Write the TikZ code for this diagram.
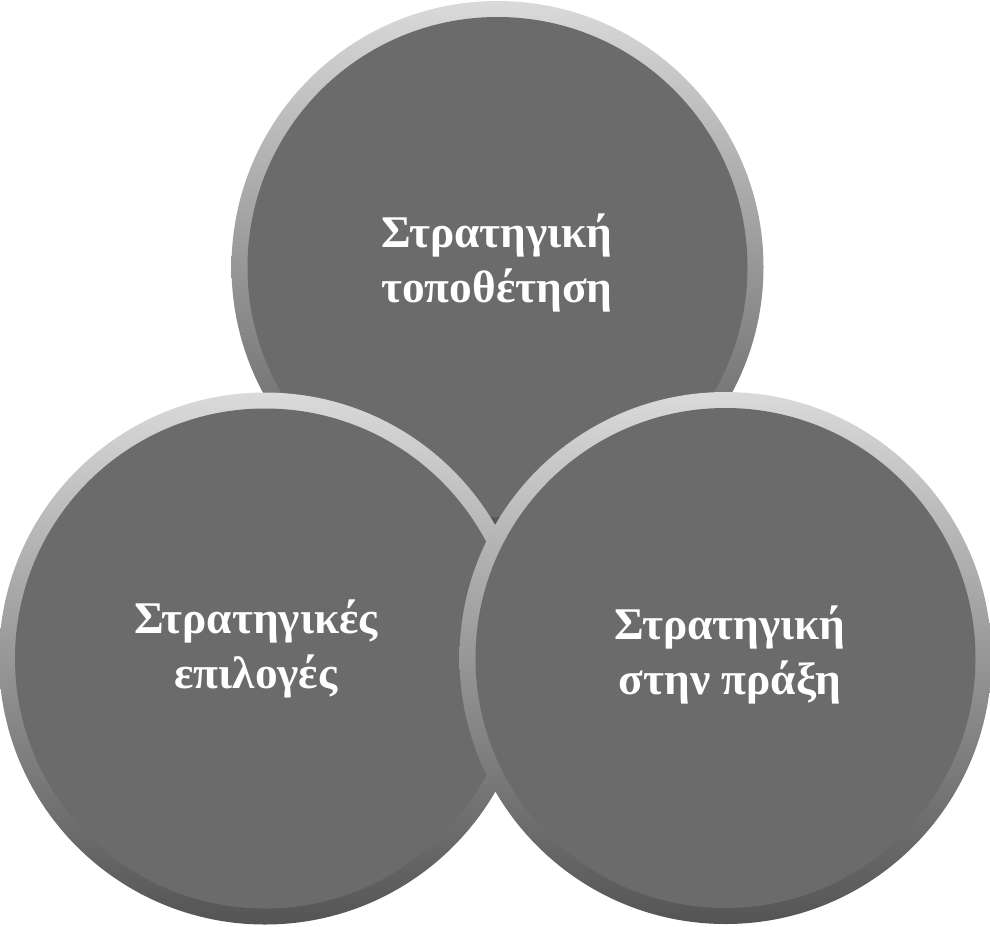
\documentclass[tikz,border=0pt]{standalone}
\usepackage{fontspec}
\setmainfont{Liberation Serif}
\definecolor{ringtop}{HTML}{DADADA}
\definecolor{ringmid}{HTML}{979797}
\definecolor{ringbot}{HTML}{545454}
\definecolor{bodygray}{HTML}{6B6B6B}
\def\ringnode{\node[circle,inner sep=0pt,minimum size=399pt,top color=ringtop,middle color=ringmid,bottom color=ringbot]}
\def\bodynode{\node[circle,inner sep=0pt,minimum size=375pt,fill=bodygray]}
\def\labelnode{\node[text=white,align=center,font=\bfseries\fontsize{34}{41}\selectfont]}

\begin{document}
\begin{tikzpicture}[x=0.75pt,y=-0.75pt]
\useasboundingbox (0,0) rectangle (990,926);
% top disc
\ringnode (topring) at (497.5,267) {};
\bodynode (topbody) at (topring.center) {};
\labelnode (toplabel) at (497,263) {Στρατηγική\\τοποθέτηση};
% left disc
\ringnode (leftring) at (265,658.5) {};
\bodynode (leftbody) at (leftring.center) {};
\labelnode (leftlabel) at (256,649) {Στρατηγικές\\επιλογές};
% right disc
\ringnode (rightring) at (725.5,658) {};
\bodynode (rightbody) at (rightring.center) {};
\labelnode (rightlabel) at (730,655) {Στρατηγική\\στην πράξη};
\end{tikzpicture}
\end{document}
